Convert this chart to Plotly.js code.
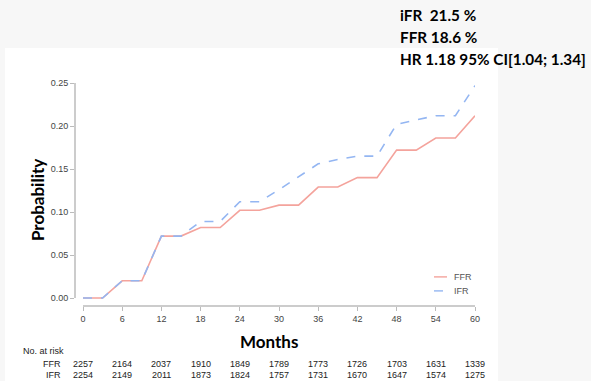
<!DOCTYPE html>
<html>
<head>
<meta charset="utf-8">
<script src="https://cdn.plot.ly/plotly-3.0.1.min.js"></script>
<style>html,body{margin:0;padding:0;background:#f7f7f7;}#chart{width:591px;height:381px;}</style>
</head>
<body>
<div id="chart"></div>
<script>
var months = [0,3,6,9,12,15,18,21,24,27,30,33,36,39,42,45,48,51,54,57,60];
var ffr = [0,0,0.02,0.02,0.072,0.072,0.082,0.082,0.102,0.102,0.108,0.108,0.129,0.129,0.140,0.140,0.172,0.172,0.186,0.186,0.212];
var ifr = [0,0,0.02,0.02,0.072,0.072,0.089,0.089,0.112,0.112,0.126,0.141,0.156,0.161,0.165,0.165,0.202,0.207,0.212,0.212,0.247];
var riskMonths = [0,6,12,18,24,30,36,42,48,54,60];
var riskFFR = [2257,2164,2037,1910,1849,1789,1773,1726,1703,1631,1339];
var riskIFR = [2254,2149,2011,1873,1824,1757,1731,1670,1647,1574,1275];
var yTicks = [0,0.05,0.10,0.15,0.20,0.25];
var yTickText = ['0.00','0.05','0.10','0.15','0.20','0.25'];
var headerLines = ['iFR  21.5 %','FFR 18.6 %','HR 1.18 95% CI[1.04; 1.34]'];
var seriesNames = ['FFR','IFR'];
var seriesColors = ['#f4a39c','#94b6f2'];
var seriesDash = ['solid','dash'];

var traces = [
  {x: months, y: ffr, type:'scatter', mode:'lines', name:seriesNames[0],
   line:{color:seriesColors[0], width:1.6, dash:seriesDash[0]}},
  {x: months, y: ifr, type:'scatter', mode:'lines', name:seriesNames[1],
   line:{color:seriesColors[1], width:1.6, dash:seriesDash[1]}}
];

var sans = 'Liberation Sans, Arial, sans-serif';
var tickFont = {family:sans, size:9, color:'#444'};
var ann = [];
var shapes = [
  {type:'rect', xref:'paper', yref:'paper', x0:-0.175, x1:1.0575, y0:-0.336, y1:1.157,
   fillcolor:'#ffffff', line:{width:0}, layer:'below'},
  {type:'line', xref:'x', yref:'paper', x0:0, x1:60, y0:0, y1:0, line:{color:'#bbb', width:1.5}},
  {type:'line', xref:'paper', yref:'y', x0:0, x1:0, y0:0, y1:0.25, line:{color:'#bbb', width:1.5}}
];
var boldFont = {family:'Lato, Liberation Sans, sans-serif', size:17, color:'#000'};
ann.push({text:'<b>Probability</b>', xref:'paper', yref:'paper', x:-0.095, y:0.475,
  textangle:-90, showarrow:false, font:boldFont, xanchor:'center', yanchor:'middle'});
ann.push({text:'<b>Months</b>', xref:'paper', yref:'paper', x:0.485, y:-0.161,
  showarrow:false, font:boldFont, xanchor:'center', yanchor:'middle'});
ann.push({text:'No. at risk', xref:'paper', yref:'paper', x:-0.134, y:-0.2018,
  showarrow:false, font:{family:sans, size:9, color:'#222'}, xanchor:'left', yanchor:'middle'});
var rowY = [-0.260, -0.309];
var rows = [riskFFR, riskIFR];
for (var r=0; r<2; r++) {
  ann.push({text:seriesNames[r], xref:'paper', yref:'paper', x:-0.029, y:rowY[r],
    showarrow:false, font:{family:sans, size:9, color:'#222'}, xanchor:'right', yanchor:'middle'});
  for (var i=0; i<riskMonths.length; i++) {
    ann.push({text:String(rows[r][i]), xref:'x', yref:'paper', x:riskMonths[i], y:rowY[r],
      showarrow:false, font:{family:sans, size:9, color:'#222'}, xanchor:'center', yanchor:'middle'});
  }
}
var headY = [1.305, 1.206, 1.1076];
for (var h=0; h<headerLines.length; h++) {
  ann.push({text:'<b>'+headerLines[h]+'</b>', xref:'paper', yref:'paper', x:0.8075, y:headY[h],
    showarrow:false, font:{family:'Lato, Liberation Sans, sans-serif', size:15.3, color:'#000'}, xanchor:'left', yanchor:'middle'});
}
// legend (drawn manually to match compact key)
var legY = [0.1305, 0.0677];
for (var k=0; k<2; k++) {
  shapes.push({type:'line', xref:'paper', yref:'paper', x0:0.8975, x1:0.93, y0:legY[k], y1:legY[k],
    line:{color:seriesColors[k], width:1.4, dash:seriesDash[k]}});
  ann.push({text:seriesNames[k], xref:'paper', yref:'paper', x:0.9425, y:legY[k],
    showarrow:false, font:{family:sans, size:9, color:'#555'}, xanchor:'left', yanchor:'middle'});
}

var layout = {
  width:591, height:381,
  margin:{l:75, r:116, t:83, b:75, pad:0},
  paper_bgcolor:'#f7f7f7', plot_bgcolor:'#ffffff',
  showlegend:false,
  xaxis:{range:[-1.225,60], tickvals:riskMonths, ticktext:riskMonths.map(String),
    ticks:'outside', ticklen:4, tickcolor:'#bbb', tickwidth:1,
    showline:false, zeroline:false, showgrid:false, tickfont:tickFont, fixedrange:true},
  yaxis:{range:[-0.0093,0.25], tickvals:yTicks, ticktext:yTickText,
    ticks:'outside', ticklen:4, tickcolor:'#bbb', tickwidth:1,
    showline:false, zeroline:false, showgrid:false, tickfont:tickFont, fixedrange:true},
  shapes:shapes,
  annotations:ann
};
Plotly.newPlot('chart', traces, layout, {displayModeBar:false, staticPlot:true});
</script>
</body>
</html>
